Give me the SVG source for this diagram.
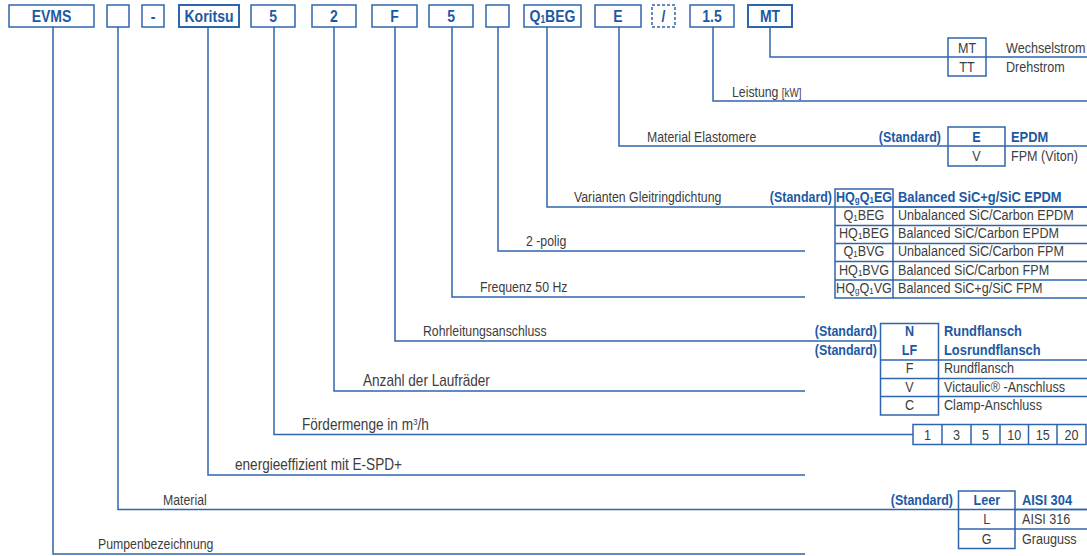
<svg xmlns="http://www.w3.org/2000/svg" width="1087" height="556" viewBox="0 0 1087 556">
<style>
.ln{fill:none;stroke:#2f65ad;stroke-width:1.5}
.bx{fill:#fff;stroke:#2f65ad;stroke-width:1.5}
.bxb{fill:#fff;stroke:#2f65ad;stroke-width:2}
.dash{fill:#fff;stroke:#2f65ad;stroke-width:1.5;stroke-dasharray:3 2}
text{font-family:"Liberation Sans",Arial,sans-serif;transform-box:fill-box}
.bt{font-size:16.5px;font-weight:bold;fill:#1d59a3;text-anchor:middle;transform-origin:50% 50%;transform:scaleX(.85)}
.lb{font-size:15px;fill:#3d3d3d;transform-origin:0 50%;transform:scaleX(.82)}
.lb2{font-size:16px;fill:#3d3d3d;transform-origin:0 50%;transform:scaleX(.85)}
.tc{font-size:15px;fill:#3d3d3d;text-anchor:middle;transform-origin:50% 50%;transform:scaleX(.84)}
.tcb{font-size:15px;font-weight:bold;fill:#1d59a3;text-anchor:middle;transform-origin:50% 50%;transform:scaleX(.84)}
.td{font-size:15px;fill:#3d3d3d;transform-origin:0 50%;transform:scaleX(.84)}
.tdb{font-size:15px;font-weight:bold;fill:#1d59a3;transform-origin:0 50%;transform:scaleX(.86)}
.st{font-size:15px;font-weight:bold;fill:#1d59a3;text-anchor:end;transform-origin:100% 50%;transform:scaleX(.83)}
</style>

<g id="connectors">
<path class="ln" d="M53 27V554H805"/>
<path class="ln" d="M118 27V509.5H1087"/>
<path class="ln" d="M208 27V475H805"/>
<path class="ln" d="M274 27V434.5H913"/>
<path class="ln" d="M334 27V391H805"/>
<path class="ln" d="M395 27V341H880"/>
<path class="ln" d="M452 27V297H805"/>
<path class="ln" d="M498 27V251H805"/>
<path class="ln" d="M547 27V207H1087"/>
<path class="ln" d="M619 27V146H1087"/>
<path class="ln" d="M713 27V101H1087"/>
<path class="ln" d="M770 27V57H1087"/>
</g>

<g id="code-boxes">
<g id="box-evms"><rect class="bx" x="9" y="5" width="85" height="22"/><text class="bt" x="51.5" y="22.5">EVMS</text></g>
<g id="box-empty1"><rect class="bx" x="107" y="5" width="22" height="22"/></g>
<g id="box-dash"><rect class="bx" x="142" y="5" width="22" height="22"/><text class="bt" x="153" y="22.5">-</text></g>
<g id="box-koritsu"><rect class="bxb" x="179" y="5" width="60" height="22"/><text class="bt" x="209" y="22.5">Koritsu</text></g>
<g id="box-5a"><rect class="bx" x="251" y="5" width="44" height="22"/><text class="bt" x="273" y="22.5">5</text></g>
<g id="box-2"><rect class="bx" x="312" y="5" width="44" height="22"/><text class="bt" x="334" y="22.5">2</text></g>
<g id="box-f"><rect class="bx" x="372" y="5" width="45" height="22"/><text class="bt" x="394.5" y="22.5">F</text></g>
<g id="box-5b"><rect class="bx" x="429" y="5" width="44" height="22"/><text class="bt" x="451" y="22.5">5</text></g>
<g id="box-empty2"><rect class="bx" x="486" y="5" width="23" height="22"/></g>
<g id="box-q1beg"><rect class="bx" x="524" y="5" width="57" height="22"/><text class="bt" x="552.5" y="22.5">Q<tspan font-size="10" dy="1">1</tspan><tspan dy="-1">BEG</tspan></text></g>
<g id="box-e"><rect class="bx" x="595" y="5" width="46" height="22"/><text class="bt" x="618" y="22.5">E</text></g>
<g id="box-slash"><rect class="dash" x="652" y="5" width="23" height="22"/><text class="bt" x="663.5" y="22.5">/</text></g>
<g id="box-15"><rect class="bx" x="690" y="5" width="44" height="22"/><text class="bt" x="712" y="22.5">1.5</text></g>
<g id="box-mt"><rect class="bxb" x="748" y="5" width="44" height="22"/><text class="bt" x="770" y="22.5">MT</text></g>
</g>

<g id="labels">
<text class="lb" x="732" y="97">Leistung <tspan font-size="12">[kW]</tspan></text>
<text class="lb" x="647" y="142">Material Elastomere</text>
<text class="lb" x="574" y="202">Varianten Gleitringdichtung</text>
<text class="lb" x="526" y="246.5">2 -polig</text>
<text class="lb" x="480" y="292.5">Frequenz 50 Hz</text>
<text class="lb" x="423" y="336.5">Rohrleitungsanschluss</text>
<text class="lb2" x="363" y="386.5">Anzahl der Laufräder</text>
<text class="lb2" x="302" y="430.5">Fördermenge in m<tspan font-size="9.5" dy="-5.5">3</tspan><tspan dy="5.5">/h</tspan></text>
<text class="lb2" x="235" y="470.5">energieeffizient mit E-SPD+</text>
<text class="lb" x="163" y="505.5">Material</text>
<text class="lb" x="98" y="549.5">Pumpenbezeichnung</text>
</g>

<g id="table-motor">
<rect class="bx" x="948" y="38" width="38" height="38"/>
<path class="ln" d="M948 57H986"/>
<text class="tc" x="967" y="53">MT</text>
<text class="tc" x="967" y="72.5">TT</text>
<text class="td" x="1006" y="53">Wechselstrom</text>
<text class="td" x="1006" y="72.5">Drehstrom</text>
</g>

<g id="table-elastomer">
<rect class="bx" x="948" y="127" width="57" height="39"/>
<path class="ln" d="M948 146H1005"/>
<text class="st" x="941" y="142">(Standard)</text>
<text class="tcb" x="976.5" y="142">E</text>
<text class="tdb" x="1011" y="142">EPDM</text>
<text class="tc" x="976.5" y="161.5">V</text>
<text class="td" x="1011" y="161.5">FPM (Viton)</text>
</g>

<g id="table-seal">
<rect class="bx" x="835" y="189" width="58" height="109"/>
<path class="ln" d="M835 207H1087M835 225.5H1087M835 243.5H1087M835 261.5H1087M835 280H1087M893 298H1087"/>
<text class="st" x="832" y="202">(Standard)</text>
<text class="tcb" x="864" y="202">HQ<tspan font-size="9.5" dy="1">g</tspan><tspan dy="-1">Q</tspan><tspan font-size="9.5" dy="1">1</tspan><tspan dy="-1">EG</tspan></text>
<text class="tdb" x="898" y="202">Balanced SiC+g/SiC EPDM</text>
<text class="tc" x="864" y="220.5">Q<tspan font-size="9.5" dy="1">1</tspan><tspan dy="-1">BEG</tspan></text>
<text class="td" x="898" y="220.5">Unbalanced SiC/Carbon EPDM</text>
<text class="tc" x="864" y="238.5">HQ<tspan font-size="9.5" dy="1">1</tspan><tspan dy="-1">BEG</tspan></text>
<text class="td" x="898" y="238.5">Balanced SiC/Carbon EPDM</text>
<text class="tc" x="864" y="256.5">Q<tspan font-size="9.5" dy="1">1</tspan><tspan dy="-1">BVG</tspan></text>
<text class="td" x="898" y="256.5">Unbalanced SiC/Carbon FPM</text>
<text class="tc" x="864" y="275">HQ<tspan font-size="9.5" dy="1">1</tspan><tspan dy="-1">BVG</tspan></text>
<text class="td" x="898" y="275">Balanced SiC/Carbon FPM</text>
<text class="tc" x="864" y="293.5">HQ<tspan font-size="9.5" dy="1">g</tspan><tspan dy="-1">Q</tspan><tspan font-size="9.5" dy="1">1</tspan><tspan dy="-1">VG</tspan></text>
<text class="td" x="898" y="293.5">Balanced SiC+g/SiC FPM</text>
</g>

<g id="table-connection">
<rect class="bx" x="880.5" y="323.5" width="58" height="91.5"/>
<path class="ln" d="M880.5 360H1087M880.5 378.5H1087M880.5 396.5H1087"/>
<text class="st" x="877" y="336.5">(Standard)</text>
<text class="st" x="877" y="355">(Standard)</text>
<text class="tcb" x="909.5" y="336.5">N</text>
<text class="tdb" x="944" y="336.5">Rundflansch</text>
<text class="tcb" x="909.5" y="355">LF</text>
<text class="tdb" x="944" y="355">Losrundflansch</text>
<text class="tc" x="909.5" y="373.5">F</text>
<text class="td" x="944" y="373.5">Rundflansch</text>
<text class="tc" x="909.5" y="392">V</text>
<text class="td" x="944" y="392">Victaulic® -Anschluss</text>
<text class="tc" x="909.5" y="410.5">C</text>
<text class="td" x="944" y="410.5">Clamp-Anschluss</text>
</g>

<g id="table-flow">
<rect class="bx" x="913" y="424.5" width="173" height="20"/>
<path class="ln" d="M942 424.5V444.5M971 424.5V444.5M1000 424.5V444.5M1028.5 424.5V444.5M1057 424.5V444.5"/>
<text class="tc" x="927.5" y="440">1</text>
<text class="tc" x="956.5" y="440">3</text>
<text class="tc" x="985.5" y="440">5</text>
<text class="tc" x="1014.2" y="440">10</text>
<text class="tc" x="1042.7" y="440">15</text>
<text class="tc" x="1071.5" y="440">20</text>
</g>

<g id="table-material">
<rect class="bx" x="958.5" y="491" width="56.5" height="57.5"/>
<path class="ln" d="M958.5 509.5H1087M958.5 529H1087"/>
<text class="st" x="953" y="505.5">(Standard)</text>
<text class="tcb" x="986.7" y="505.5">Leer</text>
<text class="tdb" x="1022" y="505.5">AISI 304</text>
<text class="tc" x="986.7" y="524.5">L</text>
<text class="td" x="1022" y="524.5">AISI 316</text>
<text class="tc" x="986.7" y="544">G</text>
<text class="td" x="1022" y="544">Grauguss</text>
</g>
</svg>
